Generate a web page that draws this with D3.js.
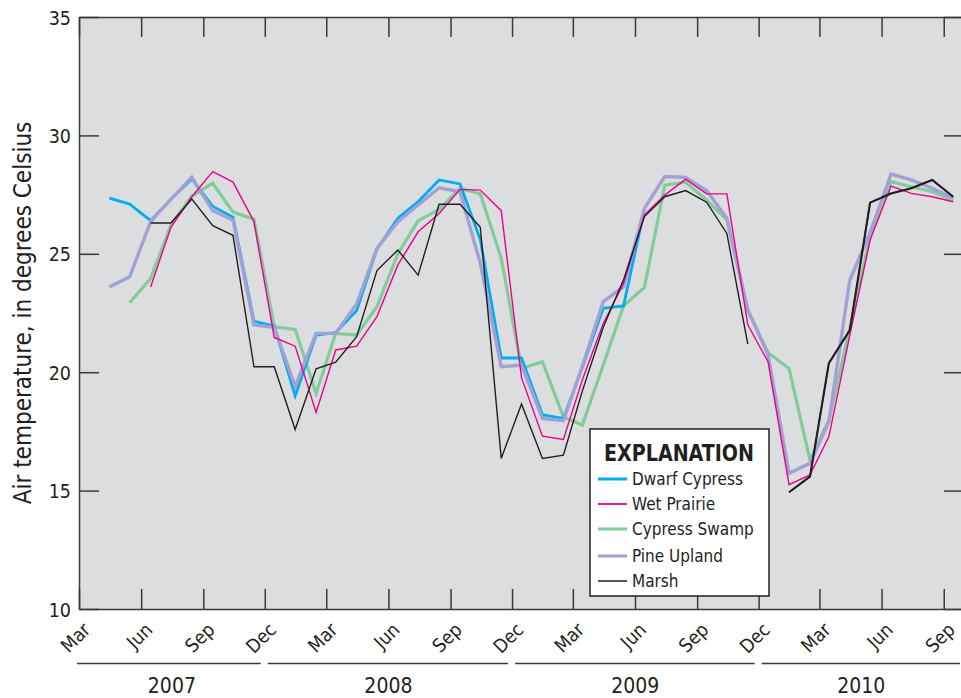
<!DOCTYPE html>
<html>
<head>
<meta charset="utf-8">
<script src="https://cdn.jsdelivr.net/npm/d3@7/dist/d3.min.js"></script>
<style>
  body { margin: 0; background: #fff; }
  svg text { font-family: "DejaVu Sans Condensed", "DejaVu Sans", sans-serif; font-stretch: condensed; fill: #231f20; }
</style>
</head>
<body>
<div class="chart"></div>
<script>
// monthly values, Apr 2007 .. Sep 2010 (null = no data)
var firstMonth = "2007-04";
var dwarfCypress = [27.35, 27.1, 26.4, 27.3, 28.15, 27.0, 26.55, 22.15, 21.95, 19.0, 21.57, 21.67, 22.6, 25.2, 26.5, 27.2, 28.12, 27.95, 25.6, 20.6, 20.6, 18.2, 18.05, 20.2, 22.7, 22.8, 26.88];
var wetPrairie = [null, null, 23.6, 26.12, 27.41, 28.47, 28.03, 26.36, 21.47, 21.1, 18.3, 20.94, 21.1, 22.35, 24.53, 25.93, 26.7, 27.72, 27.69, 26.82, 19.77, 17.3, 17.16, 19.67, 22.06, 23.75, 26.64, 27.48, 28.15, 27.53, 27.53, 22.0, 20.44, 15.25, 15.66, 17.28, 21.57, 25.58, 27.86, 27.55, 27.41, 27.2];
var cypressSwamp = [null, 22.94, 23.96, 26.2, 27.44, 27.98, 26.76, 26.46, 21.92, 21.81, 19.11, 21.64, 21.57, 22.77, 25.0, 26.39, 26.88, 27.77, 27.53, 24.81, 20.16, 20.44, 18.12, 17.77, 20.3, 22.8, 23.58, 27.9, 28.02, 27.27, 26.43, 22.63, 20.82, 20.16, 16.29, 17.98, 21.85, 25.72, 28.05, 27.83, 27.62, 27.27];
var pineUpland = [23.6, 24.03, 26.36, 27.3, 28.23, 26.82, 26.43, 22.0, 21.9, 19.39, 21.64, 21.64, 22.88, 25.23, 26.36, 27.06, 27.79, 27.62, 24.6, 20.23, 20.3, 18.05, 17.95, 20.25, 22.98, 23.61, 26.92, 28.26, 28.23, 27.67, 26.5, 22.63, 20.73, 15.73, 16.15, 17.91, 23.89, 25.9, 28.37, 28.12, 27.77, 27.34];
var marsh = [null, null, 26.3, 26.3, 27.31, 26.19, 25.78, 20.23, 20.23, 17.58, 20.14, 20.42, 21.5, 24.29, 25.16, 24.1, 27.09, 27.09, 26.12, 16.36, 18.66, 16.36, 16.5, 19.2, 21.9, 23.9, 26.57, 27.41, 27.67, 27.18, 25.86, 21.19, null, 14.93, 15.59, 20.38, 21.78, 27.16, 27.55, 27.77, 28.12, 27.41];

var yTicks = [10, 15, 20, 25, 30, 35];
var years = ["2007", "2008", "2009", "2010"];
var yearStarts = ["2007-03-01", "2007-12-01", "2008-12-01", "2009-12-01"];
var yearEnds = ["2007-12-01", "2008-12-01", "2009-12-01", "2010-10-01"];

var series = [
  {name: "Cypress Swamp", values: cypressSwamp, color: "#80cc9a", width: 3.2},
  {name: "Dwarf Cypress", values: dwarfCypress, color: "#00aeef", width: 2.8},
  {name: "Pine Upland", values: pineUpland, color: "#a3a0d6", width: 3.4},
  {name: "Wet Prairie", values: wetPrairie, color: "#ec008c", width: 1.4},
  {name: "Marsh", values: marsh, color: "#231f20", width: 1.4}
];
var legendOrder = ["Dwarf Cypress", "Wet Prairie", "Cypress Swamp", "Pine Upland", "Marsh"];

var width = 961, height = 698;
var plotLeft = 79, plotTop = 17, plotRight = 964, plotBottom = 609;
var parse = d3.utcParse("%Y-%m-%d");

var x = d3.scaleUtc()
  .domain([parse("2007-03-01"), parse("2010-10-01")])
  .range([plotLeft, plotRight]);
var y = d3.scaleLinear().domain([10, 35]).range([plotBottom, plotTop]);

function monthDate(i) {
  var d = d3.utcParse("%Y-%m")(firstMonth);
  return new Date(Date.UTC(d.getUTCFullYear(), d.getUTCMonth() + i, 15));
}

var svg = d3.select(".chart")
  .append("svg")
  .attr("width", width)
  .attr("height", height);

svg.append("rect")
  .attr("x", plotLeft)
  .attr("y", plotTop)
  .attr("width", plotRight - plotLeft)
  .attr("height", plotBottom - plotTop)
  .attr("fill", "#dcdddf");

var line = d3.line()
  .defined(function(d){ return d != null; })
  .x(function(d, i){ return x(monthDate(i)); })
  .y(function(d){ return y(d); });

svg.selectAll(".series")
  .data(series)
  .enter().append("path")
  .attr("class", "series")
  .attr("fill", "none")
  .attr("stroke", function(s){ return s.color; })
  .attr("stroke-width", function(s){ return s.width; })
  .attr("stroke-linejoin", "miter")
  .attr("d", function(s){ return line(s.values); });

// the 2010 marsh record is printed heavier
var lateLine = d3.line()
  .defined(function(d, i){ return d != null && monthDate(i) >= parse("2010-01-01"); })
  .x(function(d, i){ return x(monthDate(i)); })
  .y(function(d){ return y(d); });

svg.append("path")
  .attr("fill", "none")
  .attr("stroke", "#231f20")
  .attr("stroke-width", 2.1)
  .attr("d", lateLine(marsh));

// axes
var tickDates = d3.utcMonth.range(parse("2007-03-01"), parse("2010-09-02"), 3);

var xTop = d3.axisBottom(x).tickValues(tickDates).tickSize(20).tickSizeOuter(0).tickFormat("");
var xBottom = d3.axisBottom(x).tickValues(tickDates).tickSize(-20).tickSizeOuter(0).tickFormat(d3.utcFormat("%b"));
var yLeft = d3.axisLeft(y).tickValues(yTicks).tickSize(-20).tickSizeOuter(0).tickPadding(8);
var yRight = d3.axisRight(y).tickValues(yTicks).tickSize(-20).tickSizeOuter(0).tickFormat("");

svg.append("g").attr("class", "axis").attr("transform", "translate(0," + plotTop + ")").call(xTop);
var gx = svg.append("g").attr("class", "axis").attr("transform", "translate(0," + plotBottom + ")").call(xBottom);
var gy = svg.append("g").attr("class", "axis").attr("transform", "translate(" + plotLeft + ",0)").call(yLeft);
svg.append("g").attr("class", "axis").attr("transform", "translate(" + plotRight + ",0)").call(yRight);

svg.selectAll(".axis path, .axis line")
  .attr("stroke", "#3a3a3a")
  .attr("stroke-width", 1.5);

gx.selectAll("text")
  .attr("y", null)
  .attr("dy", null)
  .attr("text-anchor", "end")
  .attr("transform", "translate(12,22) rotate(-45)")
  .style("font-size", "19px");

gy.selectAll("text")
  .attr("dy", "0.36em")
  .style("font-size", "19.5px");

// year bands under the month labels
var yg = svg.append("g");
years.forEach(function(yr, i){
  var x0 = x(parse(yearStarts[i])), x1 = x(parse(yearEnds[i]));
  yg.append("line")
    .attr("x1", i == 0 ? x0 - 2 : x0 + 3)
    .attr("x2", x1 - 4)
    .attr("y1", 663.5).attr("y2", 663.5)
    .attr("stroke", "#3a3a3a")
    .attr("stroke-width", 1.5);
  yg.append("text")
    .attr("x", (x0 + x1) / 2)
    .attr("y", 693)
    .attr("text-anchor", "middle")
    .style("font-size", "21px")
    .text(yr);
});

svg.append("text")
  .attr("transform", "translate(31," + ((plotTop + plotBottom) / 2) + ") rotate(-90)")
  .attr("text-anchor", "middle")
  .style("font-size", "24px")
  .text("Air temperature, in degrees Celsius");

// legend
var lg = svg.append("g").attr("transform", "translate(590,429)");
lg.append("rect")
  .attr("width", 179)
  .attr("height", 167)
  .attr("fill", "#fff")
  .attr("stroke", "#231f20")
  .attr("stroke-width", 1.5);
lg.append("text")
  .attr("x", 14)
  .attr("y", 32)
  .style("font-size", "23px")
  .style("font-weight", "bold")
  .attr("textLength", 150)
  .attr("lengthAdjust", "spacingAndGlyphs")
  .text("EXPLANATION");

var rowY = [50, 75, 100, 127, 152];
legendOrder.forEach(function(name, i){
  var s = series.filter(function(d){ return d.name == name; })[0];
  lg.append("line")
    .attr("x1", 8).attr("x2", 37)
    .attr("y1", rowY[i]).attr("y2", rowY[i])
    .attr("stroke", name == "Marsh" ? "#555" : s.color)
    .attr("stroke-width", name == "Marsh" ? 2 : (name == "Wet Prairie" ? 1.8 : 3));
  lg.append("text")
    .attr("x", 42)
    .attr("y", rowY[i] + 6)
    .style("font-size", "17px")
    .text(name);
});
</script>
</body>
</html>
